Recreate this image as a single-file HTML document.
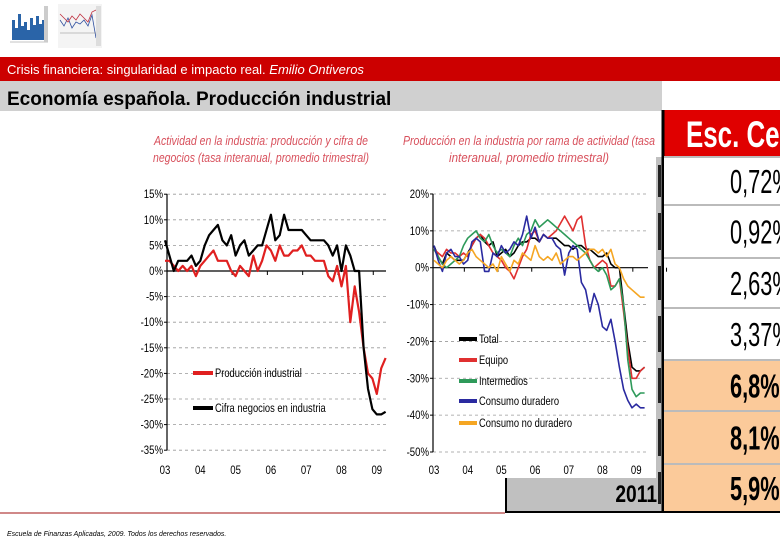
<!DOCTYPE html>
<html><head><meta charset="utf-8"><style>
html,body{margin:0;padding:0;background:#fff;}
svg{display:block;font-family:"Liberation Sans",sans-serif;}
</style></head><body>
<svg id="s" width="780" height="540" viewBox="0 0 780 540" xmlns="http://www.w3.org/2000/svg">
<g>
  <rect x="8" y="3" width="42" height="45" fill="#fff"/>
  <path d="M12 40 L12 20 L15 20 L15 28 L18 28 L18 14 L21 14 L21 26 L24 26 L24 22 L27 22 L27 30 L30 30 L30 18 L33 18 L33 25 L36 25 L36 16 L39 16 L39 24 L42 24 L42 20 L45 20 L45 40 Z" fill="#2a64a8"/>
  <line x1="10" y1="42" x2="48" y2="42" stroke="#888" stroke-width="0.5"/>
  <rect x="44" y="6" width="4" height="36" fill="#ccc"/>
</g>
<g>
  <rect x="58" y="4" width="44" height="44" fill="#f4f4f4"/>
  <polyline points="60,20 64,26 68,18 72,28 76,22 80,24 84,20 88,26 92,15 96,38" fill="none" stroke="#3050a0" stroke-width="0.8"/>
  <polyline points="60,14 64,18 68,22 72,16 76,20 80,14 84,18 88,22 92,12 96,10" fill="none" stroke="#c03040" stroke-width="0.8"/>
  <line x1="60" y1="33" x2="98" y2="33" stroke="#888" stroke-width="0.5"/>
  <rect x="96" y="6" width="5" height="40" fill="#ddd"/>
</g>
<rect x="0" y="57" width="780" height="24" fill="#cc0000"/>
<text x="7" y="74" fill="#fff" font-size="13">Crisis financiera: singularidad e impacto real.  <tspan font-style="italic">Emilio Ontiveros</tspan></text>
<rect x="0" y="81" width="662" height="30" fill="#d0d0d0"/>
<text x="7" y="105" fill="#000" font-size="19" font-weight="bold">Economía española. Producción industrial</text>

<g>
  <rect x="505" y="478" width="157" height="34" fill="#c0c0c0"/>
  <line x1="506" y1="478" x2="506" y2="513" stroke="#000" stroke-width="2"/>
  <text transform="translate(657,502) scale(0.8,1)" text-anchor="end" font-size="24" font-weight="bold">2011</text>
  <rect x="656" y="157" width="6" height="321" fill="#c0c0c0"/>
  <rect x="662" y="110" width="118" height="47" fill="#e00000"/>
  <text transform="translate(686,147) scale(0.7,1)" fill="#fff" font-size="37" font-weight="bold">Esc. Ce</text>
  <line x1="662" y1="157" x2="780" y2="157" stroke="#000" stroke-width="2"/>
  <line x1="663" y1="110" x2="663" y2="513" stroke="#000" stroke-width="3"/>
  <line x1="505" y1="512" x2="780" y2="512" stroke="#000" stroke-width="2"/>
</g>
<g id="rows"></g>

<g id="c1"></g>
<g id="c2"></g>

<line x1="0" y1="513" x2="505" y2="513" stroke="#a01010" stroke-width="1"/>
<text x="7" y="536" font-size="7" font-style="italic">Escuela de Finanzas Aplicadas, 2009. Todos los derechos reservados.</text>
</svg>
<script>
const rowValues = ["0,72%","0,92%","2,63%","3,37%","6,8%","8,1%","5,9%"];
const rowHighlighted = [false,false,false,false,true,true,true];

const years = ["03","04","05","06","07","08","09"];
const times = [];
for (let k = 0; k <= 50; k++) times.push(2003 + k * 0.125);
const yTicks1 = [15,10,5,0,-5,-10,-15,-20,-25,-30,-35];
const yTicks2 = [20,10,0,-10,-20,-30,-40,-50];
const prodIndustrial = [2,2,1,0,1,0,1,-1,1,2,3,4,2,2,2,0,-1,1,0,-1,3,0,2,5,4,2,5,3,3,4,4,5,3,3,2,2,2,-1,-2,1,-3,1,-10,-3,-8,-15,-20,-21,-24,-19,-17];
const cifraNegocios = [6,3,0,2,2,2,3,1,2,5,7,8,9,6,5,7,3,5,6,3,4,5,5,8,11,6,7,11,8,8,8,8,7,6,6,6,6,5,3,5,0,5,3,0,0,-15,-23,-27,-28,-28,-27.5];
const total = [6,3,1,4,3,2,2,2,4,6,8,9,7,6,7,3,4,5,3,4,6,7,7,8,8,7,9,8,8,8,7,6,6,5,6,6,5,5,4,3,3,4,1,0,0,-10,-20,-27,-28,-28,-27];
const equipo = [5,4,3,5,4,4,3,4,3,6,8,9,8,6,4,3,2,0,-1,-3,0,3,5,9,10,7,9,8,9,10,12,14,12,10,13,14,6,2,0,1,2,1,-5,-5,-3,-12,-22,-30,-30,-28,-27];
const intermedios = [5,3,1,0,1,2,3,6,8,9,10,8,7,9,6,4,5,4,3,6,8,6,9,10,13,11,12,13,12,11,10,9,8,7,6,5,4,2,0,-1,0,-2,-6,-5,-3,-10,-25,-33,-35,-34,-34];
const consDuradero = [6,2,-1,4,5,3,3,1,2,7,8,7,-1,-1,4,3,6,4,5,7,6,9,14,8,11,7,9,8,8,6,5,-2,4,6,5,-4,-6,-12,-7,-10,-16,-17,-14,-20,-27,-33,-36,-38,-37,-38,-38];
const consNoDuradero = [2,1,0,2,3,2,1,2,4,5,3,2,1,0,1,-1,3,1,-1,2,1,4,3,2,6,3,2,3,2,4,1,2,3,3,2,3,4,5,5,4,5,3,5,1,0,-3,-5,-6,-7,-8,-8];

const NS = "http://www.w3.org/2000/svg";
function mk(parent, tag, attrs, txt) {
  const e = document.createElementNS(NS, tag);
  for (const k in attrs) e.setAttribute(k, attrs[k]);
  if (txt !== undefined) e.textContent = txt;
  parent.appendChild(e);
  return e;
}
function ntext(parent, x, y, sx, attrs, txt) {
  attrs.transform = 'translate(' + x + ',' + y + ') scale(' + sx + ',1)';
  return mk(parent, 'text', attrs, txt);
}

const rows = document.getElementById('rows');
const rowTops = [157,205,258,308,360,411,464];
rowValues.forEach((v, i) => {
  const top = rowTops[i], h = (i < 6 ? rowTops[i+1] : 512) - top;
  const r = mk(rows, 'rect', {x:664, y:top+1, width:116, height:h-2, fill: rowHighlighted[i] ? '#fbca9a' : '#fff'});
  
  
  mk(rows, 'line', {x1:664, y1:top, x2:780, y2:top, stroke:'#bbb', 'stroke-width':2});
  mk(rows, 'rect', {x:658, y:top+8, width:3, height:h-16, fill:'#222'});
  const t = ntext(rows, 730, top + h/2 + 12, 0.66, {'font-size':33, 'font-weight': rowHighlighted[i] ? 'bold' : 'normal'}, v);
  
  
});

function drawChart(g, cfg) {
  mk(g, 'rect', {x:cfg.bx, y:111, width:cfg.bw, height:367, fill:'#fff'});
  const sy = v => cfg.y0 - v * cfg.ppu;
  const sx = t => cfg.x0 + (t - 2003) * cfg.ppy;
  cfg.title.forEach((line, i) => {
    const t = mk(g, 'text', {x:cfg.tx, y:145 + i*17, 'text-anchor':'middle', fill:'#d8505c', 'font-size':12.5, 'font-style':'italic', textLength:cfg.titleW[i], lengthAdjust:'spacingAndGlyphs'}, line);
    
    
  });
  cfg.yTicks.forEach(v => {
    if (v !== 0) mk(g, 'line', {x1:cfg.ax, y1:sy(v), x2:cfg.xEnd, y2:sy(v), stroke:'#999', 'stroke-width':0.8, 'stroke-dasharray':'3,3'});
    mk(g, 'line', {x1:cfg.ax-3, y1:sy(v), x2:cfg.ax, y2:sy(v), stroke:'#000'});
    const t = ntext(g, cfg.ax-4, sy(v)+4, 0.8, {'text-anchor':'end', 'font-size':12}, v + '%');
    
    
  });
  mk(g, 'line', {x1:cfg.ax, y1:sy(cfg.yTicks[0]), x2:cfg.ax, y2:sy(cfg.yTicks[cfg.yTicks.length-1]), stroke:'#000', 'stroke-width':1.2});
  mk(g, 'line', {x1:cfg.ax, y1:sy(0), x2:cfg.xEnd, y2:sy(0), stroke:'#000', 'stroke-width':1.2});
  years.forEach((y, i) => {
    const x = sx(2003 + i);
    mk(g, 'line', {x1:x+cfg.ppy*0.9, y1:sy(0), x2:x+cfg.ppy*0.9, y2:sy(0)+4, stroke:'#000'});
    const t = ntext(g, x, cfg.xLabY, 0.8, {'text-anchor':'middle', 'font-size':12}, y);
    
    
  });
  cfg.series.forEach(s => {
    const pts = s.data.map((v, k) => sx(times[k]).toFixed(1) + ',' + sy(v).toFixed(1)).join(' ');
    const p = mk(g, 'polyline', {points:pts, fill:'none', stroke:s.color, 'stroke-width':cfg.lw, 'stroke-linejoin':'round'});
    
    
  });
  cfg.series.forEach((s, si) => {
    const ly = cfg.legY[si];
    mk(g, 'line', {x1:cfg.legX, y1:ly, x2:cfg.legX+cfg.legW, y2:ly, stroke:s.color, 'stroke-width':4});
    const t = ntext(g, cfg.legX+cfg.legW+2, ly+4, 0.78, {'font-size':12}, s.label);
    
    
  });
}

drawChart(document.getElementById('c1'), {
  bx:130, bw:266, tx:261, title:["Actividad en la industria: producción y cifra de","negocios (tasa interanual, promedio trimestral)"], titleW:[214,216],
  ax:167, x0:165, ppy:35.3, y0:271, ppu:5.12, xEnd:386, xLabY:474, lw:2.2,
  yTicks:yTicks1,
  series:[
    {id:'produccion-industrial', label:'Producción industrial', color:'#e02020', data:prodIndustrial},
    {id:'cifra-negocios', label:'Cifra negocios en industria', color:'#000', data:cifraNegocios}
  ],
  legX:193, legW:20, legY:[373,408]
});
drawChart(document.getElementById('c2'), {
  bx:396, bw:260, tx:529, title:["Producción en la industria por rama de actividad (tasa","interanual, promedio trimestral)"], titleW:[252,160],
  ax:433, x0:434, ppy:33.7, y0:267.7, ppu:3.686, xEnd:648, xLabY:474, lw:1.6,
  yTicks:yTicks2,
  series:[
    {id:'total', label:'Total', color:'#000', data:total},
    {id:'equipo', label:'Equipo', color:'#e03030', data:equipo},
    {id:'intermedios', label:'Intermedios', color:'#2e9a5a', data:intermedios},
    {id:'consumo-duradero', label:'Consumo duradero', color:'#2a2aa0', data:consDuradero},
    {id:'consumo-no-duradero', label:'Consumo no duradero', color:'#f5a623', data:consNoDuradero}
  ],
  legX:459, legW:18, legY:[339,360,381,401,423]
});
</script>
</body></html>
